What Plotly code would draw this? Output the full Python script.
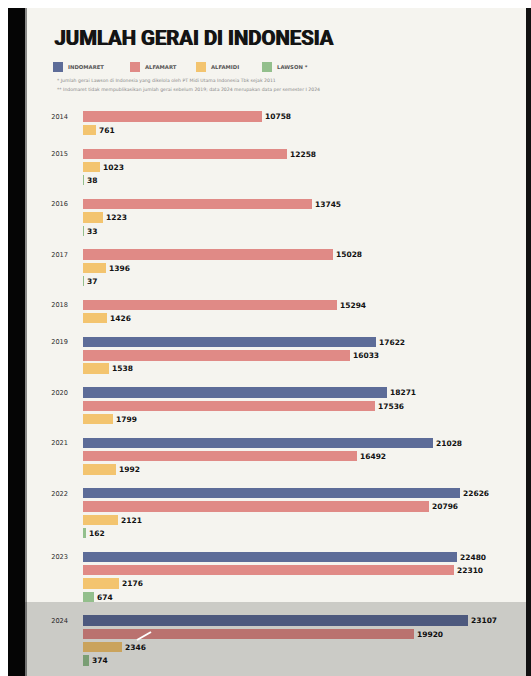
import plotly.graph_objects as go

# ---------------- data ----------------
years = [2014, 2015, 2016, 2017, 2018, 2019, 2020, 2021, 2022, 2023, 2024]
series_names = ["INDOMARET", "ALFAMART", "ALFAMIDI", "LAWSON *"]
indomaret = [None, None, None, None, None, 17622, 18271, 21028, 22626, 22480, 23107]
alfamart = [10758, 12258, 13745, 15028, 15294, 16033, 17536, 16492, 20796, 22310, 19920]
alfamidi = [761, 1023, 1223, 1396, 1426, 1538, 1799, 1992, 2121, 2176, 2346]
lawson = [None, 38, 33, 37, None, None, None, None, 162, 674, 374]
colors = ["#5d6c98", "#e08a86", "#f3c46f", "#93bf8c"]

all_series = [indomaret, alfamart, alfamidi, lawson]

# ---------------- geometry helpers (pixels -> paper) ----------------
W, H = 531, 676
ML, MR, MT, MB = 83, 5, 110, 9
PW = W - ML - MR
PH = H - MT - MB


def px(xp):
    return (xp - ML) / PW


def py(yp):
    return (H - MB - yp) / PH


# row positions for each (series, year)
GAP = 0.8
rows = {i: [] for i in range(4)}
tickvals = []
pos = 0.0
for yi, yr in enumerate(years):
    first = True
    for si, s in enumerate(all_series):
        v = s[yi]
        if v is None:
            continue
        rows[si].append((pos, v))
        if first:
            tickvals.append(pos)
            first = False
        pos += 1
    pos += GAP
last = pos - GAP - 1

fig = go.Figure()
for si in range(4):
    ys = [r[0] for r in rows[si]]
    xs = [r[1] for r in rows[si]]
    fig.add_trace(go.Bar(
        y=ys, x=xs, orientation="h", width=0.78,
        marker=dict(color=colors[si], line=dict(width=0)),
        text=[str(v) for v in xs], textposition="outside",
        constraintext="none", cliponaxis=False,
        textfont=dict(family="DejaVu Sans", size=7.5, color="#111", weight="bold"),
        name=series_names[si], showlegend=False,
    ))

XMAX = PW / 0.01664
fig.update_xaxes(range=[0, XMAX], visible=False)
fig.update_yaxes(range=[last + 0.5, -0.5], tickvals=tickvals,
                 ticktext=[str(y) for y in years], showgrid=False,
                 zeroline=False, ticks="", ticklabelstandoff=14,
                 tickfont=dict(family="DejaVu Sans", size=6.6, color="#2e2e2e"))

shapes = [
    # cream panel
    dict(type="rect", xref="paper", yref="paper", x0=px(27), x1=px(526),
         y0=py(676), y1=py(8), fillcolor="#f5f4ef", line=dict(width=0), layer="below"),
    # left black strip
    dict(type="rect", xref="paper", yref="paper", x0=px(8), x1=px(25),
         y0=py(676), y1=py(8), fillcolor="#050505", line=dict(width=0), layer="below"),
    dict(type="rect", xref="paper", yref="paper", x0=px(25), x1=px(27),
         y0=py(676), y1=py(8), fillcolor="#8a8a88", line=dict(width=0), layer="below"),
    # right black strip
    dict(type="rect", xref="paper", yref="paper", x0=px(526), x1=px(531),
         y0=py(676), y1=py(8), fillcolor="#111111", line=dict(width=0), layer="below"),
    # 2024 grey highlight
    dict(type="rect", xref="paper", yref="paper", x0=px(25), x1=px(526),
         y0=py(676), y1=py(602), fillcolor="rgba(0,0,0,0.17)", line=dict(width=0), layer="above"),
    # small white pointer line near 2024
    dict(type="line", xref="paper", yref="paper", x0=px(137), x1=px(151),
         y0=py(640), y1=py(632), line=dict(color="white", width=2), layer="above"),
]

title_font = dict(family="Roboto", size=20.3, color="#141414", weight=900)
annotations = []
for dx in (0.0, 0.7):
    annotations.append(dict(text="<b>JUMLAH GERAI DI INDONESIA</b>", xref="paper", yref="paper",
                            x=px(52 + dx), y=py(38), xanchor="left", yanchor="middle",
                            showarrow=False, font=title_font))
annotations += [
    dict(text="* Jumlah gerai Lawson di Indonesia yang dikelola oleh PT Midi Utama Indonesia Tbk sejak 2011",
         xref="paper", yref="paper", x=px(55), y=py(80), xanchor="left", yanchor="middle",
         showarrow=False, font=dict(family="DejaVu Sans", size=4.6, color="#888")),
    dict(text="** Indomaret tidak mempublikasikan jumlah gerai sebelum 2019; data 2024 merupakan data per semester I 2024",
         xref="paper", yref="paper", x=px(55), y=py(89), xanchor="left", yanchor="middle",
         showarrow=False, font=dict(family="DejaVu Sans", size=4.6, color="#888")),
]

leg_x = [53, 130, 196, 262]
for i, name in enumerate(series_names):
    shapes.append(dict(type="rect", xref="paper", yref="paper", x0=px(leg_x[i]),
                       x1=px(leg_x[i] + 10), y0=py(72), y1=py(62),
                       fillcolor=colors[i], line=dict(width=0)))
    annotations.append(dict(text="<b>" + name + "</b>", xref="paper", yref="paper",
                            x=px(leg_x[i] + 13), y=py(67), xanchor="left", yanchor="middle",
                            showarrow=False,
                            font=dict(family="DejaVu Sans", size=5.3, color="#555")))

fig.update_layout(
    width=W, height=H,
    margin=dict(l=ML, r=MR, t=MT, b=MB, pad=0),
    paper_bgcolor="white", plot_bgcolor="rgba(0,0,0,0)",
    barmode="overlay", bargap=0,
    shapes=shapes, annotations=annotations,
    showlegend=False,
)

fig.write_html("out.html")
